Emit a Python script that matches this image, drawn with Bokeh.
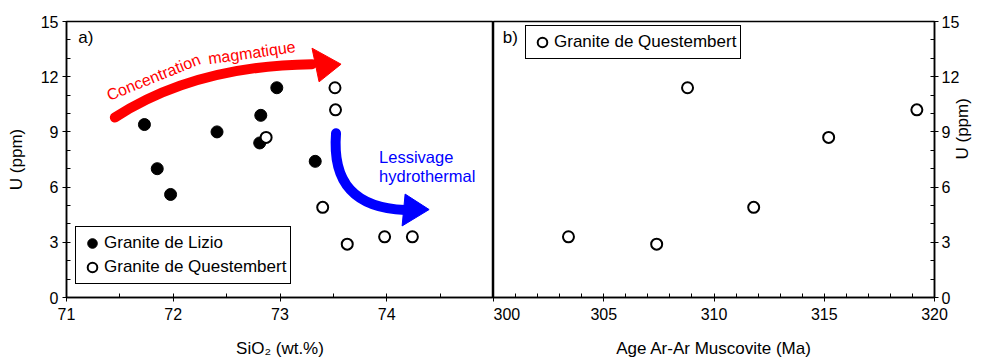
import math
from bokeh.plotting import figure
from bokeh.layouts import row
from bokeh.models import Range1d, FixedTicker, Legend, LegendItem
from bokeh.core.properties import value
from bokeh.embed import file_html
from bokeh.resources import INLINE

# ---------------- data ----------------
lizio_sio2 = [71.73, 71.85, 71.975, 72.41, 72.82, 72.81, 72.97, 73.33]
lizio_u = [9.4, 7.0, 5.6, 9.0, 9.9, 8.4, 11.4, 7.4]

quest_sio2 = [73.515, 73.52, 72.87, 73.40, 73.63, 73.98, 74.24]
quest_u = [11.4, 10.2, 8.7, 4.9, 2.9, 3.3, 3.3]

quest_age = [308.8, 319.2, 315.2, 311.8, 307.4, 303.4]
quest_age_u = [11.4, 10.2, 8.7, 4.9, 2.9, 3.3]

sio2_ticks = [71, 72, 73, 74]
sio2_minor = [71.5, 72.5, 73.5, 74.5]
age_ticks = [300, 305, 310, 315, 320]
age_minor = [a for a in range(301, 320) if a % 5 != 0]
u_ticks = [0, 3, 6, 9, 12, 15]
u_minor = [u for u in range(0, 16) if u % 3 != 0]

FONT = "Liberation Sans"
RED = "#ff0000"
BLUE = "#0000ff"


def style_axes(p):
    p.grid.visible = False
    p.outline_line_color = "black"
    p.outline_line_width = 1.5
    p.outline_line_alpha = 1.0
    p.background_fill_color = "white"
    p.border_fill_color = "white"
    for ax in p.axis:
        ax.axis_line_width = 1.5
        ax.axis_line_color = "black"
        ax.major_tick_in = 4
        ax.major_tick_out = 4
        ax.minor_tick_in = 4
        ax.minor_tick_out = 0
        ax.major_tick_line_width = 1
        ax.minor_tick_line_width = 1
        ax.major_label_text_font = FONT
        ax.major_label_text_font_size = "16px"
        ax.major_label_text_color = "black"
        ax.axis_label_text_font = FONT
        ax.axis_label_text_font_size = "17px"
        ax.axis_label_text_font_style = "normal"
        ax.axis_label_text_color = "black"
        ax.major_label_standoff = 4


# ---------------- panel a ----------------
p1 = figure(width=493, height=360, output_backend="svg", toolbar_location=None,
            x_range=Range1d(71, 75), y_range=Range1d(0, 15),
            min_border_left=66, min_border_right=0, min_border_top=21,
            min_border_bottom=59)
p1.xaxis.ticker = FixedTicker(ticks=sio2_ticks, minor_ticks=sio2_minor)
p1.yaxis.ticker = FixedTicker(ticks=u_ticks, minor_ticks=u_minor)
p1.xaxis.axis_label = "SiO\u2082 (wt.%)"
p1.yaxis.axis_label = "U (ppm)"
style_axes(p1)
p1.xaxis.major_label_standoff = 6
p1.xaxis.axis_label_standoff = 16
p1.yaxis.axis_label_standoff = 12

r_lizio = p1.scatter(lizio_sio2, lizio_u, size=12, marker="circle",
                     fill_color="black", line_color="black")
r_quest = p1.scatter(quest_sio2, quest_u, size=11, marker="circle",
                     fill_color="white", line_color="black", line_width=2)

# arrows (annotation shapes, data space)
p1.bezier(x0=[71.453], y0=[9.78], cx0=[71.922], cy0=[11.55],
          cx1=[72.531], cy1=[12.62], x1=[73.30], y1=[12.68],
          line_color=RED, line_width=10, line_cap="round")
p1.patch([73.30, 73.366, 73.572], [13.55, 11.72, 12.68],
         fill_color=RED, line_color=RED)
p1.bezier(x0=[73.525], y0=[8.93], cx0=[73.487], cy0=[6.20],
          cx1=[73.703], cy1=[4.86], x1=[74.172], y1=[4.75],
          line_color=BLUE, line_width=10, line_cap="round")
p1.patch([74.172, 74.397, 74.144], [5.62, 4.78, 3.89],
         fill_color=BLUE, line_color=BLUE)

p1.text(x=[71.815, 72.735], y=[11.97, 13.30],
        text=["Concentration", "magmatique"], angle=[0.384, 0.14],
        text_font=value(FONT), text_font_size="16px", text_color=RED,
        text_align="center", text_baseline="middle")
p1.text(x=[73.928, 73.928], y=[7.64, 6.63],
        text=["Lessivage", "hydrothermal"],
        text_font=value(FONT), text_font_size="16.5px", text_color=BLUE,
        text_align="left", text_baseline="middle")
p1.text(x=[71.11], y=[14.15], text=["a)"], text_font=value(FONT),
        text_font_size="17px", text_color="black",
        text_align="left", text_baseline="middle")

leg1 = Legend(items=[LegendItem(label="Granite de Lizio", renderers=[r_lizio]),
                     LegendItem(label="Granite de Questembert", renderers=[r_quest])],
              location=(9, 13))
p1.add_layout(leg1)

# ---------------- panel b ----------------
p2 = figure(width=493, height=360, output_backend="svg", toolbar_location=None,
            x_range=Range1d(300, 320), y_range=Range1d(0, 15),
            y_axis_location="right",
            min_border_left=0, min_border_right=52, min_border_top=21,
            min_border_bottom=59)
p2.xaxis.ticker = FixedTicker(ticks=age_ticks, minor_ticks=age_minor)
p2.yaxis.ticker = FixedTicker(ticks=u_ticks, minor_ticks=u_minor)
p2.xaxis.axis_label = "Age Ar-Ar Muscovite (Ma)"
p2.yaxis.axis_label = "U (ppm)"
style_axes(p2)
p2.xaxis.major_label_standoff = 6
p2.xaxis.axis_label_standoff = 16
p2.yaxis.major_label_standoff = 3
p2.yaxis.axis_label_standoff = 0
if hasattr(p2.yaxis[0], "axis_label_orientation"):
    p2.yaxis[0].axis_label_orientation = math.pi / 2

r_quest2 = p2.scatter(quest_age, quest_age_u, size=11, marker="circle",
                      fill_color="white", line_color="black", line_width=2)
p2.text(x=[300.42], y=[14.15], text=["b)"], text_font=value(FONT),
        text_font_size="17px", text_color="black",
        text_align="left", text_baseline="middle")

leg2 = Legend(items=[LegendItem(label="Granite de Questembert", renderers=[r_quest2])],
              location=(32, 238))
p2.add_layout(leg2)

for leg in (leg1, leg2):
    leg.glyph_width = 24
    leg.glyph_height = 24
    leg.label_height = 20
    leg.label_standoff = 0
    leg.padding = 4
    leg.spacing = -4
    leg.margin = 0
    leg.label_text_font = FONT
    leg.label_text_font_size = "17px"
    leg.label_text_color = "black"
    leg.border_line_color = "black"
    leg.border_line_width = 1.5
    leg.border_line_alpha = 1.0
    leg.background_fill_color = "white"
    leg.background_fill_alpha = 1.0

layout = row(p1, p2)
open("out.html", "w").write(file_html(layout, INLINE))
